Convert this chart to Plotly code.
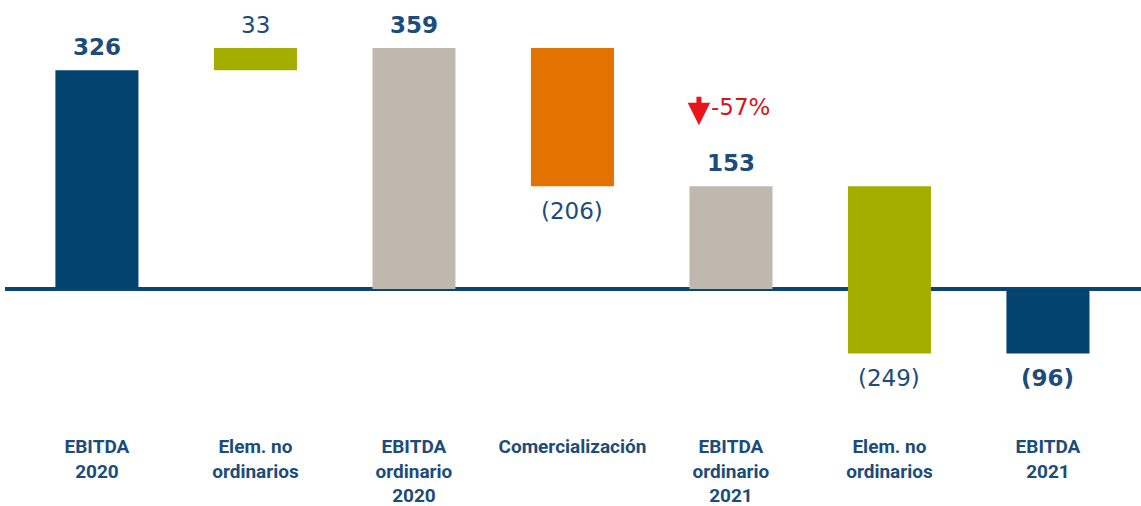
import plotly.graph_objects as go

categories = ["EBITDA<br>2020", "Elem. no<br>ordinarios", "EBITDA<br>ordinario<br>2020",
              "Comercialización", "EBITDA<br>ordinario<br>2021", "Elem. no<br>ordinarios",
              "EBITDA<br>2021"]
values = [326, 33, 359, -206, 153, -249, -96]
measures = ["total", "relative", "total", "relative", "total", "relative", "total"]
colors = ["#034370", "#A4AE00", "#BFB8AE", "#E37200", "#BFB8AE", "#A4AE00", "#034370"]
bold = [True, False, True, False, True, False, True]
delta_label = "-57%"

# waterfall geometry from values
bases, heights = [], []
running = 0
for v, m in zip(values, measures):
    if m == "total":
        bases.append(0)
        heights.append(v)
        running = v
    else:
        bases.append(running)
        heights.append(v)
        running += v

def fmt(v, b):
    s = f"({abs(v)})" if v < 0 else f"{v}"
    return f"<b>{s}</b>" if b else s

x_idx = list(range(len(categories)))
TXT = "#1B4C7A"

fig = go.Figure()
fig.add_trace(go.Bar(
    x=x_idx, y=heights, base=bases,
    marker=dict(color=colors, line=dict(width=0)),
    hoverinfo="skip",
))

# value labels at the bar ends
for i, (v, b, h) in enumerate(zip(values, bold, heights)):
    end = bases[i] + h
    pos = h >= 0
    fig.add_annotation(
        x=i, y=end, xref="x", yref="y",
        text=fmt(v, b), showarrow=False,
        yanchor="bottom" if pos else "top",
        yshift=8 if pos else -10,
        font=dict(family="DejaVu Sans", size=23, color=TXT),
    )

# change indicator
fig.add_annotation(
    x=4, y=271, xref="x", yref="y",
    text=delta_label, showarrow=False, xanchor="left", xshift=-22,
    font=dict(family="DejaVu Sans", size=23, color="#D8141B"),
)
fig.add_annotation(
    x=4, y=244, xref="x", yref="y", text="",
    showarrow=True, ax=0, ay=-30, xshift=-32,
    arrowhead=2, arrowwidth=5, arrowsize=0.9, arrowcolor="#E8151B",
)

fig.update_layout(
    width=1141, height=506,
    margin=dict(l=5, r=0, t=10, b=90),
    paper_bgcolor="white", plot_bgcolor="white",
    showlegend=False,
    bargap=0.476,
)
fig.update_xaxes(
    range=[-0.58, 6.587],
    tickmode="array", tickvals=x_idx, ticktext=categories,
    tickfont=dict(family="Roboto", size=19, color=TXT, weight="bold"),
    showgrid=False, showline=False, zeroline=False, ticks="",
    ticklabelstandoff=17,
)
fig.update_yaxes(
    range=[-189.3, 415.8],
    showgrid=False, showticklabels=False, ticks="",
    zeroline=True, zerolinecolor="#0A4673", zerolinewidth=4,
    layer="above traces",
)

fig.write_html("out.html", config={"displayModeBar": False},
               post_script="document.body.style.margin='0px';")
